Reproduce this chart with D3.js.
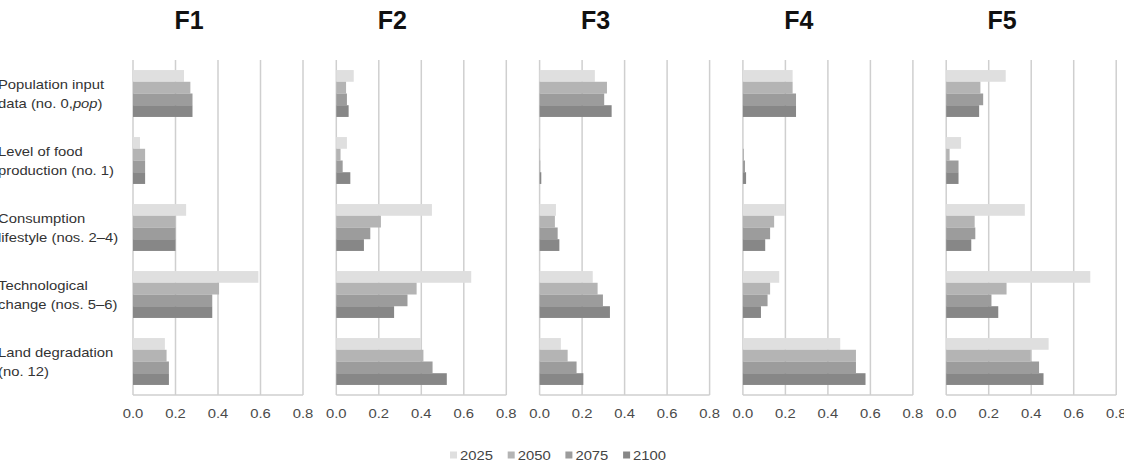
<!DOCTYPE html>
<html>
<head>
<meta charset="utf-8">
<script src="https://cdn.jsdelivr.net/npm/d3@7"></script>
<style>
  body { margin: 0; background: #fff; }
  svg { display: block; font-family: "Liberation Sans", Arial, sans-serif; }
</style>
</head>
<body>
<svg width="1124" height="472"></svg>
<script>
// chart data
var panels = ["F1", "F2", "F3", "F4", "F5"];
var years = ["2025", "2050", "2075", "2100"];
var categories = [
  ["Population input", "data (no. 0,*pop*)"],
  ["Level of food", "production (no. 1)"],
  ["Consumption", "lifestyle (nos. 2\u20134)"],
  ["Technological", "change (nos. 5\u20136)"],
  ["Land degradation", "(no. 12)"]
];
var ticks = [0, 0.2, 0.4, 0.6, 0.8];

// one row per category, values for 2025, 2050, 2075, 2100
var f1 = [[0.24, 0.27, 0.28, 0.28], [0.033, 0.057, 0.057, 0.057], [0.25, 0.2, 0.2, 0.2], [0.59, 0.405, 0.373, 0.373], [0.15, 0.158, 0.169, 0.169]];
var f2 = [[0.082, 0.046, 0.05, 0.058], [0.05, 0.02, 0.03, 0.066], [0.45, 0.21, 0.16, 0.13], [0.635, 0.378, 0.335, 0.272], [0.398, 0.41, 0.453, 0.52]];
var f3 = [[0.26, 0.317, 0.304, 0.339], [0.001, 0.002, 0.003, 0.008], [0.077, 0.072, 0.085, 0.093], [0.25, 0.273, 0.298, 0.331], [0.1, 0.132, 0.174, 0.206]];
var f4 = [[0.234, 0.234, 0.25, 0.25], [0.003, 0.005, 0.01, 0.015], [0.198, 0.147, 0.128, 0.105], [0.171, 0.128, 0.116, 0.085], [0.458, 0.532, 0.532, 0.577]];
var f5 = [[0.28, 0.161, 0.174, 0.155], [0.07, 0.016, 0.058, 0.058], [0.37, 0.134, 0.137, 0.118], [0.678, 0.284, 0.213, 0.245], [0.482, 0.398, 0.437, 0.458]];
var panelValues = [f1, f2, f3, f4, f5];

var colors = ["#dfdfdf", "#b4b4b4", "#9c9c9c", "#878787"];

var svg = d3.select("svg"),
    plotTop = 60, plotBottom = 395,
    panelW = 170, firstLeft = 133, panelStep = 203.3,
    stretch = 1.14;

var y = d3.scaleBand()
          .domain(d3.range(categories.length))
          .range([plotTop, plotBottom])
          .paddingInner(0.3)
          .paddingOuter(0.15);

var yInner = d3.scaleBand()
               .domain(years)
               .range([0, y.bandwidth()]);

var color = d3.scaleOrdinal().domain(years).range(colors);

// text that is slightly wider than the font, like the original
function wideText(sel, x, yy) {
  return sel.attr("transform", "translate(" + x + "," + yy + ") scale(" + stretch + ",1)");
}

panels.forEach(function(name, p) {
  var left = firstLeft + p * panelStep;
  var x = d3.scaleLinear().domain([0, 0.8]).range([left, left + panelW]);
  var g = svg.append("g").attr("class", "panel");

  // grid lines
  g.selectAll(".grid")
    .data(ticks)
    .enter().append("line")
      .attr("x1", function(d) { return x(d); })
      .attr("x2", function(d) { return x(d); })
      .attr("y1", plotTop)
      .attr("y2", plotBottom)
      .attr("stroke", "#cfcfcf")
      .attr("stroke-width", 1.5);

  g.append("line")
    .attr("x1", x(0)).attr("x2", x(0.8))
    .attr("y1", plotBottom).attr("y2", plotBottom)
    .attr("stroke", "#cfcfcf")
    .attr("stroke-width", 1.5);

  // bars
  var rows = g.selectAll(".row")
    .data(panelValues[p])
    .enter().append("g")
      .attr("transform", function(d, i) { return "translate(0," + y(i) + ")"; });

  rows.selectAll("rect")
    .data(function(d) { return d.map(function(v, j) { return {year: years[j], value: v}; }); })
    .enter().append("rect")
      .attr("x", x(0))
      .attr("y", function(d) { return yInner(d.year); })
      .attr("width", function(d) { return x(d.value) - x(0); })
      .attr("height", yInner.bandwidth())
      .attr("fill", function(d) { return color(d.year); });

  // x tick labels
  g.selectAll(".tick")
    .data(ticks)
    .enter().append("text")
      .each(function(d) { wideText(d3.select(this), x(d), plotBottom + 23); })
      .attr("text-anchor", "middle")
      .attr("font-size", 13)
      .attr("fill", "#4a4a4a")
      .text(function(d) { return d3.format(".1f")(d); });

  // panel title
  svg.append("text")
    .attr("x", left + 56)
    .attr("y", 29)
    .attr("text-anchor", "middle")
    .attr("font-size", 25)
    .attr("font-weight", "bold")
    .attr("fill", "#111")
    .text(name);
});

// category labels on the left
categories.forEach(function(lines, i) {
  var cy = y(i) + y.bandwidth() / 2;
  lines.forEach(function(line, k) {
    var t = svg.append("text")
      .attr("font-size", 13)
      .attr("fill", "#333");
    wideText(t, -2, cy - 5 + k * 19);
    line.split("*").forEach(function(part, m) {
      if (!part) return;
      t.append("tspan")
        .attr("font-style", m % 2 ? "italic" : "normal")
        .text(part);
    });
  });
});

// legend
var legend = svg.append("g").attr("transform", "translate(450,455)");
var item = legend.selectAll("g")
  .data(years)
  .enter().append("g")
    .attr("transform", function(d, i) { return "translate(" + (i * 57.7) + ",0)"; });

item.append("rect")
  .attr("x", 0).attr("y", -3.5)
  .attr("width", 7).attr("height", 7)
  .attr("fill", function(d) { return color(d); });

item.append("text")
  .each(function() { wideText(d3.select(this), 10, 5); })
  .attr("font-size", 13)
  .attr("fill", "#444")
  .text(function(d) { return d; });
</script>
</body>
</html>
